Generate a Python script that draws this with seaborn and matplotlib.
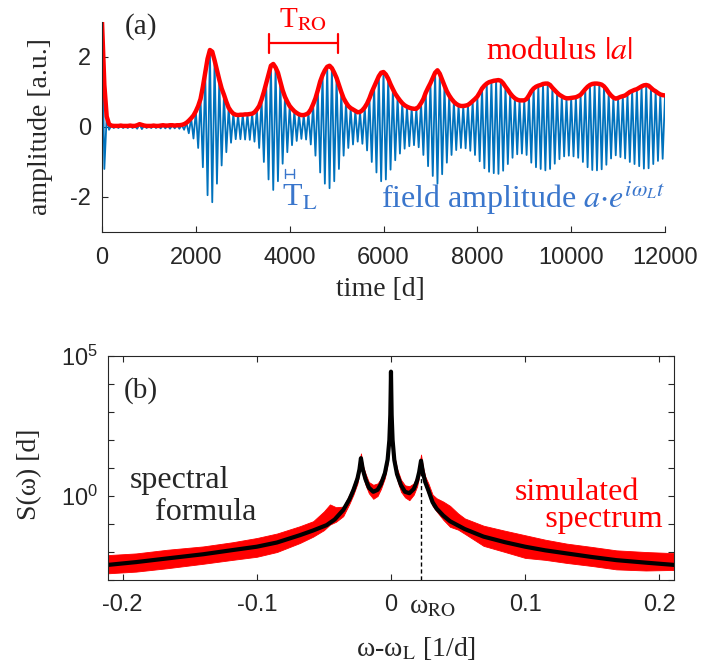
import numpy as np
import pandas as pd
import matplotlib
matplotlib.use("Agg")
import matplotlib.pyplot as plt
import seaborn as sns
from matplotlib.ticker import FixedLocator, FixedFormatter
from matplotlib.transforms import blended_transform_factory

# ---------------------------------------------------------------- data
# modulus |a| of the field, sampled every 50 d from t = 0 to 12000 d
sample_step = 50
modulus = [
    # 0 .. 950
    3.0, 1.2, 0.3, 0.08, 0.04, 0.03, 0.03, 0.03, 0.04, 0.03,
    0.03, 0.03, 0.04, 0.03, 0.03, 0.05, 0.08, 0.06, 0.04, 0.03,
    # 1000 .. 1950
    0.03, 0.03, 0.04, 0.03, 0.03, 0.04, 0.05, 0.04, 0.04, 0.05,
    0.05, 0.04, 0.05, 0.05, 0.06, 0.08, 0.12, 0.18, 0.25, 0.33,
    # 2000 .. 2950
    0.45, 0.6, 0.8, 1.15, 1.55, 1.95, 2.2, 2.15, 1.9, 1.62,
    1.35, 1.1, 0.92, 0.72, 0.55, 0.45, 0.38, 0.35, 0.34, 0.35,
    # 3000 .. 3950
    0.35, 0.36, 0.36, 0.37, 0.38, 0.42, 0.5, 0.6, 0.78, 1.0,
    1.25, 1.5, 1.75, 1.8, 1.7, 1.55, 1.3, 1.05, 0.86, 0.72,
    # 4000 .. 4950
    0.6, 0.52, 0.45, 0.4, 0.36, 0.34, 0.34, 0.36, 0.4, 0.5,
    0.65, 0.82, 1.05, 1.3, 1.48, 1.62, 1.72, 1.75, 1.68, 1.55,
    # 5000 .. 5950
    1.4, 1.2, 1.0, 0.82, 0.7, 0.6, 0.54, 0.5, 0.46, 0.42,
    0.43, 0.48, 0.56, 0.67, 0.82, 1.0, 1.15, 1.3, 1.45, 1.55,
    # 6000 .. 6950
    1.57, 1.5, 1.38, 1.22, 1.08, 0.95, 0.85, 0.76, 0.68, 0.62,
    0.58, 0.55, 0.53, 0.52, 0.52, 0.58, 0.68, 0.8, 0.98, 1.12,
    # 7000 .. 7950
    1.25, 1.4, 1.55, 1.62, 1.52, 1.35, 1.18, 1.02, 0.9, 0.8,
    0.72, 0.66, 0.62, 0.6, 0.6, 0.61, 0.63, 0.68, 0.74, 0.8,
    # 8000 .. 8950
    0.87, 0.98, 1.1, 1.18, 1.24, 1.28, 1.3, 1.32, 1.33, 1.34,
    1.32, 1.25, 1.15, 1.06, 0.96, 0.88, 0.82, 0.78, 0.76, 0.76,
    # 9000 .. 9950
    0.76, 0.8, 0.9, 1.02, 1.1, 1.15, 1.18, 1.2, 1.23, 1.24,
    1.24, 1.2, 1.12, 1.05, 0.98, 0.92, 0.88, 0.84, 0.82, 0.82,
    # 10000 .. 10950
    0.83, 0.84, 0.85, 0.88, 0.92, 1.0, 1.08, 1.15, 1.2, 1.23,
    1.24, 1.24, 1.23, 1.21, 1.16, 1.08, 0.98, 0.9, 0.84, 0.81,
    # 11000 .. 11950
    0.83, 0.86, 0.88, 0.9, 0.95, 1.0, 1.03, 1.06, 1.08, 1.12,
    1.16, 1.19, 1.2, 1.18, 1.12, 1.06, 1.02, 0.97, 0.93, 0.91,
    # 12000
    0.9,
]

# period markers in panel (a)
t_ro_span = [3550, 5030]
t_l_span = [3900, 4090]

# spectrum: analytic formula curve, (detuning [1/d], log10 S)
formula_x = [
    -0.211, -0.19, -0.167, -0.14, -0.118, -0.1, -0.085, -0.068, -0.058,
    -0.048, -0.042, -0.0356, -0.031, -0.028, -0.025, -0.0235, -0.0224,
    -0.021, -0.019, -0.0165, -0.0132, -0.010, -0.0075, -0.0045, -0.0025,
    -0.0012, -0.0005, 0.0, 0.0005, 0.0012, 0.0025, 0.0045, 0.0075, 0.0105,
    0.0137, 0.017, 0.0195, 0.021, 0.0224, 0.0238, 0.0255, 0.0279, 0.031,
    0.034, 0.039, 0.044, 0.055, 0.069, 0.085, 0.1, 0.115, 0.131, 0.15,
    0.168, 0.19, 0.211,
]
formula_log10 = [
    -2.46, -2.36, -2.23, -2.08, -1.93, -1.81, -1.66, -1.40, -1.23,
    -1.04, -0.84, -0.50, -0.12, 0.21, 0.62, 0.95, 1.35,
    0.95, 0.60, 0.30, 0.15, 0.22, 0.42, 0.82, 1.30,
    2.0, 2.9, 4.44, 2.9, 2.0, 1.28, 0.78, 0.38, 0.15,
    0.10, 0.25, 0.55, 0.85, 1.26, 0.85, 0.50, 0.20, -0.22,
    -0.45, -0.70, -0.90, -1.18, -1.45, -1.65, -1.81, -1.94, -2.05, -2.18,
    -2.29, -2.38, -2.46,
]

# spectrum: simulated data, spread of the noisy trace (log10 S)
sim_x = [
    -0.211, -0.19, -0.167, -0.14, -0.118, -0.1, -0.085, -0.068, -0.058,
    -0.050, -0.0455, -0.041, -0.0356, -0.031, -0.028, -0.025, -0.0224,
    -0.021, -0.019, -0.0165, -0.0132, -0.010, -0.0075, -0.0045, -0.0025,
    -0.0012, -0.0005, 0.0, 0.0005, 0.0012, 0.0025, 0.0045, 0.0075, 0.0105,
    0.0137, 0.017, 0.0195, 0.021, 0.0224, 0.0238, 0.0255, 0.0279, 0.031,
    0.034, 0.039, 0.044, 0.050, 0.055, 0.069, 0.085, 0.1, 0.115, 0.131,
    0.15, 0.168, 0.19, 0.211,
]
sim_lo_log10 = [
    -2.76, -2.70, -2.58, -2.42, -2.28, -2.17, -2.00, -1.68, -1.45,
    -1.22, -1.02, -0.92, -0.72, -0.28, 0.05, 0.45, 1.15,
    0.75, 0.40, 0.10, -0.10, 0.00, 0.25, 0.65, 1.15,
    1.85, 2.7, 4.2, 2.7, 1.85, 1.10, 0.60, 0.15, -0.05,
    -0.15, 0.05, 0.35, 0.70, 1.10, 0.70, 0.35, 0.05, -0.35,
    -0.55, -0.85, -1.10, -1.20, -1.35, -1.78, -2.00, -2.21, -2.28, -2.39,
    -2.50, -2.62, -2.66, -2.64,
]
sim_hi_log10 = [
    -2.11, -2.05, -1.92, -1.80, -1.65, -1.50, -1.34, -1.08, -0.90,
    -0.55, -0.30, -0.40, -0.38, 0.05, 0.40, 0.85, 1.52,
    1.10, 0.80, 0.50, 0.40, 0.45, 0.62, 1.00, 1.45,
    2.15, 3.1, 4.5, 3.1, 2.15, 1.45, 0.98, 0.58, 0.38,
    0.35, 0.45, 0.75, 1.05, 1.48, 1.05, 0.70, 0.45, 0.05,
    -0.08, -0.20, -0.35, -0.62, -0.80, -1.06, -1.24, -1.40, -1.56, -1.70,
    -1.82, -1.94, -2.00, -2.04,
]

omega_ro = 0.0224
omega_ro_log10 = 1.26

# ---------------------------------------------------------------- frames
k = np.arange(len(modulus))
time_d = k * sample_step
mod_arr = np.asarray(modulus)
# real part of a*exp(i w_L t): the carrier flips sign every half period
field = mod_arr * np.where(k % 2 == 0, 1.0, -1.0)
df_time = pd.DataFrame({"t": time_d, "modulus": mod_arr, "field": field})

df_formula = pd.DataFrame({"x": formula_x,
                           "S": 10.0 ** np.asarray(formula_log10)})
df_sim = pd.DataFrame({"x": sim_x,
                       "lo": 10.0 ** np.asarray(sim_lo_log10),
                       "hi": 10.0 ** np.asarray(sim_hi_log10)})

# ---------------------------------------------------------------- style
sns.set_theme(style="ticks")
SERIF = ["Liberation Serif", "DejaVu Serif"]
plt.rcParams.update({
    "font.family": SERIF,
    "mathtext.fontset": "stix",
    "axes.unicode_minus": False,
    "axes.edgecolor": "#262626",
    "axes.linewidth": 0.8,
    "xtick.color": "#262626",
    "ytick.color": "#262626",
})

RED = "#ff0000"
BLUE_LINE = "#0072bd"
BLUE_TEXT = "#3a76cc"
TICK_FONT = "Liberation Sans"
LABEL_SIZE = 20
ANNOT_SIZE = 23
TICK_SIZE = 17


def serif_text(ax, x, y, s, size, **kw):
    return ax.text(x, y, s, fontsize=size, fontfamily=SERIF, **kw)


fig = plt.figure(figsize=(7.02, 6.66), dpi=100)
ax_a = fig.add_axes([0.1453, 0.6517, 0.8020, 0.3153])
ax_b = fig.add_axes([0.1538, 0.1291, 0.8063, 0.3364])

# ---------------------------------------------------------------- panel (a)
sns.lineplot(data=df_time, x="t", y="field", ax=ax_a, color=BLUE_LINE,
             linewidth=1.3, estimator=None, sort=False)
sns.lineplot(data=df_time, x="t", y="modulus", ax=ax_a, color=RED,
             linewidth=3.2, estimator=None, sort=False)

ax_a.set_xlim(0, 12000)
ax_a.set_ylim(-3, 3)
ax_a.set_xticks([0, 2000, 4000, 6000, 8000, 10000, 12000])
ax_a.set_yticks([-2, 0, 2])
ax_a.spines["top"].set_visible(False)
ax_a.spines["right"].set_visible(False)
ax_a.tick_params(direction="in", length=4, width=0.8,
                 labelsize=TICK_SIZE, labelfontfamily=TICK_FONT)
ax_a.tick_params(axis="x", pad=11)
ax_a.tick_params(axis="y", pad=8)
ax_a.set_xlabel("time [d]", fontsize=LABEL_SIZE, fontfamily=SERIF)
ax_a.xaxis.set_label_coords(0.495, -0.215)
ax_a.set_ylabel("amplitude [a.u.]", fontsize=LABEL_SIZE, fontfamily=SERIF)
ax_a.yaxis.set_label_coords(-0.087, 0.5)

serif_text(ax_a, 830, 2.88, "(a)", 21, ha="center", va="center")

# T_RO bracket
y_ro, cap_ro = 2.39, 0.28
ax_a.plot(t_ro_span, [y_ro, y_ro], color=RED, lw=1.6, clip_on=False)
for tx in t_ro_span:
    ax_a.plot([tx, tx], [y_ro - cap_ro, y_ro + cap_ro], color=RED, lw=1.6,
              clip_on=False)
serif_text(ax_a, np.mean(t_ro_span), 3.08, r"T$_{\rm RO}$", 21,
           color=RED, ha="center", va="center")

# T_L bracket
y_l, cap_l = -1.33, 0.12
ax_a.plot(t_l_span, [y_l, y_l], color=BLUE_TEXT, lw=1.0)
for tx in t_l_span:
    ax_a.plot([tx, tx], [y_l - cap_l, y_l + cap_l], color=BLUE_TEXT, lw=1.0)
serif_text(ax_a, 3840, -2.26, r"T$_{\rm L}$", 23, color=BLUE_TEXT,
           ha="left", va="baseline")

serif_text(ax_a, 9760, 2.16, r"modulus $\it{|a|}$", ANNOT_SIZE, color=RED,
           ha="center", va="center")
serif_text(ax_a, 12000, -2.32, r"field amplitude $a{\cdot}e^{i\omega_L t}$",
           ANNOT_SIZE, color=BLUE_TEXT, ha="right", va="baseline")

# ---------------------------------------------------------------- panel (b)
ax_b.fill_between(df_sim["x"], df_sim["lo"], df_sim["hi"], color=RED,
                  linewidth=0.6, edgecolor=RED)
ax_b.plot([omega_ro, omega_ro], [1e-3, 10 ** omega_ro_log10], color="black",
          lw=1.0, ls=(0, (3, 2)))
sns.lineplot(data=df_formula, x="x", y="S", ax=ax_b, color="black",
             linewidth=3.0, estimator=None, sort=False)

ax_b.set_yscale("log")
ax_b.set_xlim(-0.211, 0.211)
ax_b.set_ylim(1e-3, 1e5)
ax_b.set_xticks([-0.2, -0.1, 0, 0.1, 0.2])
ax_b.set_xticklabels(["-0.2", "-0.1", "0", "0.1", "0.2"])
decades = [10.0 ** e for e in range(-3, 6)]
ax_b.yaxis.set_major_locator(FixedLocator(decades))
ax_b.yaxis.set_major_formatter(FixedFormatter(
    ["", "", "", r"$\mathregular{10^{0}}$", "", "", "", "",
     r"$\mathregular{10^{5}}$"]))
ax_b.yaxis.set_minor_locator(FixedLocator([]))
ax_b.tick_params(direction="in", length=4, width=0.8, top=True, right=True,
                 labelsize=TICK_SIZE, labelfontfamily=TICK_FONT)
ax_b.tick_params(axis="x", pad=10)
ax_b.tick_params(axis="y", pad=7)
ax_b.set_xlabel(r"ω-ω$_{\rm L}$ [1/d]", fontsize=LABEL_SIZE, fontfamily=SERIF)
ax_b.xaxis.set_label_coords(0.544, -0.245)
ax_b.set_ylabel("S(ω) [d]", fontsize=LABEL_SIZE, fontfamily=SERIF)
ax_b.yaxis.set_label_coords(-0.1166, 0.47)

serif_text(ax_b, -0.1866, 10 ** 3.75, "(b)", 21, ha="center", va="center")
serif_text(ax_b, -0.1948, 10 ** 0.29, "spectral", ANNOT_SIZE,
           ha="left", va="baseline")
serif_text(ax_b, -0.176, 10 ** -0.86, "formula", ANNOT_SIZE,
           ha="left", va="baseline")
# two-line label (anchored at the baseline of its last line),
# second line set in a little
serif_text(ax_b, 0.0925, 10 ** -1.1, "simulated\n   \u2009spectrum",
           ANNOT_SIZE, color=RED, ha="left", va="baseline",
           multialignment="left", linespacing=0.89)

trans = blended_transform_factory(ax_b.transData, ax_b.transAxes)
serif_text(ax_b, 0.0135, -0.118, r"ω$_{\rm RO}$", LABEL_SIZE,
           transform=trans, ha="left", va="center")

fig.savefig("out.png", dpi=100)
